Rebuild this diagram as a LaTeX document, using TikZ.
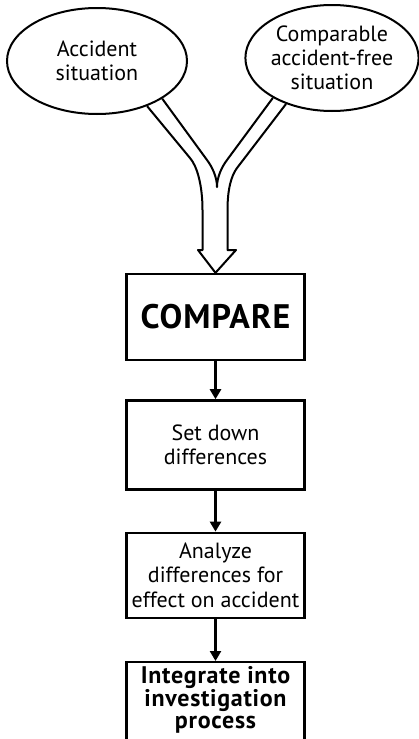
\documentclass[tikz,border=0pt]{standalone}
\usepackage{fontspec}
\setmainfont{PT Sans}
\usetikzlibrary{shapes.geometric,positioning,arrows.meta}
\tikzset{
  >={Triangle[length=10pt,width=11pt]},
  situation/.style={ellipse,draw,line width=2pt,align=center,inner sep=0pt,
    font=\fontsize{22}{24}\selectfont},
  stepbox/.style={rectangle,draw,line width=2.4pt,align=center,
    minimum width=178pt,inner sep=0pt,font=\fontsize{22}{24.5}\selectfont},
  boldstep/.style={stepbox,font=\bfseries\fontsize{#1}{22.5}\selectfont\addfontfeature{LetterSpace=3}},
}

\begin{document}
\begin{tikzpicture}[
x=1pt,y=1pt,
node distance=40pt
]
\useasboundingbox (0,0) rectangle (418,-739);

\node[situation,minimum width=180pt,minimum height=106pt] (acc) at (97,-61) {Accident\\situation};
\node[situation,minimum width=170pt,minimum height=106pt] (accfree) at (332,-58) {Comparable\\accident-free\\situation};

\node[boldstep=34,minimum height=86pt] (compare) at (215.5,-317) {COMPARE};
\node[stepbox,minimum height=89pt,below=38pt of compare] (setdown) {Set down\\differences};
\node[stepbox,minimum height=85pt,below=41pt of setdown] (analyze) {Analyze\\differences for\\effect on accident};
\node[boldstep=24,minimum height=92pt,text depth=21pt,below=42pt of analyze] (integrate) {Integrate into\\investigation\\process};

% merging hollow arrow
\draw[line width=2pt,line join=round]
  (acc.-42) -- (190,-158) .. controls (197,-166) and (202.5,-185) .. (202.5,-210)
  -- (202.5,-250) -- (198,-250) -- (compare.north) -- (236,-250) -- (227.5,-250)
  -- (227.5,-210) .. controls (227.5,-190) and (231,-176) .. (237,-168) -- (accfree.225);
\draw[line width=2pt,line join=round]
  (acc.-30) -- (207,-160) .. controls (213,-168) and (217,-178) .. (217,-187)
  .. controls (217,-178) and (221,-168) .. (227,-160) -- (accfree.214);

\draw[->,line width=3.4pt] (compare) -- (setdown);
\draw[->,line width=3.4pt] (setdown) -- (analyze);
\draw[->,line width=3.4pt] (analyze) -- (integrate);
\end{tikzpicture}
\end{document}
